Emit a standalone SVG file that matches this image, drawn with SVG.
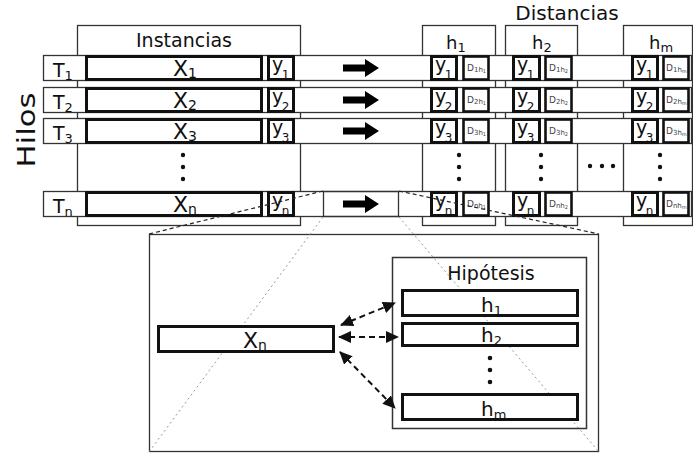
<svg xmlns="http://www.w3.org/2000/svg" width="693" height="454" viewBox="0 0 693 454">
<style>
text{font-family:"DejaVu Sans","Liberation Sans",sans-serif;fill:#111}
.col{fill:#fff;stroke:#333;stroke-width:1.3}
.band{fill:#fff;stroke:#333;stroke-width:1.3}
.thick{fill:#fff;stroke:#111;stroke-width:3}
.dbox{fill:#fff;stroke:#111;stroke-width:2.6}
.d{fill:#444;font-size:9px}
.y{font-size:19px}
.dot{fill:#111}
.zdash{stroke:#222;stroke-width:1.2;stroke-dasharray:4 3;fill:none}
.zdot{stroke:#999;stroke-width:1;stroke-dasharray:2 3;fill:none}
.dar{stroke:#111;stroke-width:2;stroke-dasharray:6 4;fill:none;marker-start:url(#ah);marker-end:url(#ah)}
</style>
<defs>
<marker id="ah" markerUnits="userSpaceOnUse" markerWidth="13" markerHeight="12" refX="12" refY="6" orient="auto-start-reverse" viewBox="0 0 13 12">
<path d="M0,0 L13,6 L0,12 z" fill="#111"/>
</marker>
<path id="barrow" d="M343,-3.5 H365 V-9 L379,0 L365,9 V3.5 H343 z" fill="#000"/>
</defs>

<!-- column boxes -->
<g id="instancias">
<rect class="col" x="77.5" y="25.5" width="223" height="200"/>
<text x="184" y="47" font-size="19" text-anchor="middle">Instancias</text>
</g>
<g id="distancias-title"><text x="567" y="20" font-size="20" text-anchor="middle">Distancias</text></g>
<g id="col-h1">
<rect class="col" x="422.5" y="25.5" width="73" height="200"/>
<text x="446" y="49" font-size="18">h<tspan font-size="13" dy="3">1</tspan></text>
</g>
<g id="col-h2">
<rect class="col" x="505.5" y="25.5" width="72" height="200"/>
<text x="532" y="49" font-size="18">h<tspan font-size="13" dy="3">2</tspan></text>
</g>
<g id="col-hm">
<rect class="col" x="623.5" y="25.5" width="69" height="200"/>
<text x="649" y="49" font-size="18">h<tspan font-size="13" dy="3">m</tspan></text>
</g>

<g id="hilos"><text transform="translate(35,130) rotate(-90)" font-size="25" text-anchor="middle" textLength="75" lengthAdjust="spacingAndGlyphs">Hilos</text></g>

<!-- row 1 -->
<g id="row1">
<rect class="band" x="43.5" y="55.5" width="648" height="25"/>
<text x="53" y="77" font-size="19">T<tspan font-size="13" dy="3">1</tspan></text>
<rect class="thick" x="86.5" y="56.5" width="175" height="23"/>
<text x="173" y="76" font-size="22">X<tspan font-size="14" dy="2">1</tspan></text>
<rect class="thick" x="268.5" y="56.5" width="25" height="23"/>
<text class="y" x="272" y="70.5">y<tspan font-size="12" dx="-1.5" dy="8">1</tspan></text>
<use href="#barrow" y="68"/>
<rect class="thick" x="431.5" y="56.5" width="25" height="23"/>
<text class="y" x="435" y="70.5">y<tspan font-size="12" dx="-1.5" dy="8">1</tspan></text>
<rect class="dbox" x="463.5" y="56.5" width="25" height="23"/>
<text class="d" x="467" y="71">D<tspan font-size="7" dy="1">1h</tspan><tspan font-size="5" dy="1">1</tspan></text>
<rect class="thick" x="513.5" y="56.5" width="26" height="23"/>
<text class="y" x="517" y="70.5">y<tspan font-size="12" dx="-1.5" dy="8">1</tspan></text>
<rect class="dbox" x="545.5" y="56.5" width="26" height="23"/>
<text class="d" x="549" y="71">D<tspan font-size="7" dy="1">1h</tspan><tspan font-size="5" dy="1">2</tspan></text>
<rect class="thick" x="632.5" y="56.5" width="25" height="23"/>
<text class="y" x="636" y="70.5">y<tspan font-size="12" dx="-1.5" dy="8">1</tspan></text>
<rect class="dbox" x="663.5" y="56.5" width="25" height="23"/>
<text class="d" x="666" y="71">D<tspan font-size="7" dy="1">1h</tspan><tspan font-size="5" dy="1">m</tspan></text>
</g>

<!-- row 2 -->
<g id="row2">
<rect class="band" x="43.5" y="87.5" width="648" height="25"/>
<text x="53" y="109" font-size="19">T<tspan font-size="13" dy="3">2</tspan></text>
<rect class="thick" x="86.5" y="88.5" width="175" height="23"/>
<text x="173" y="108" font-size="22">X<tspan font-size="14" dy="2">2</tspan></text>
<rect class="thick" x="268.5" y="88.5" width="25" height="23"/>
<text class="y" x="272" y="102.5">y<tspan font-size="12" dx="-1.5" dy="8">2</tspan></text>
<use href="#barrow" y="100"/>
<rect class="thick" x="431.5" y="88.5" width="25" height="23"/>
<text class="y" x="435" y="102.5">y<tspan font-size="12" dx="-1.5" dy="8">2</tspan></text>
<rect class="dbox" x="463.5" y="88.5" width="25" height="23"/>
<text class="d" x="467" y="103">D<tspan font-size="7" dy="1">2h</tspan><tspan font-size="5" dy="1">1</tspan></text>
<rect class="thick" x="513.5" y="88.5" width="26" height="23"/>
<text class="y" x="517" y="102.5">y<tspan font-size="12" dx="-1.5" dy="8">2</tspan></text>
<rect class="dbox" x="545.5" y="88.5" width="26" height="23"/>
<text class="d" x="549" y="103">D<tspan font-size="7" dy="1">2h</tspan><tspan font-size="5" dy="1">2</tspan></text>
<rect class="thick" x="632.5" y="88.5" width="25" height="23"/>
<text class="y" x="636" y="102.5">y<tspan font-size="12" dx="-1.5" dy="8">2</tspan></text>
<rect class="dbox" x="663.5" y="88.5" width="25" height="23"/>
<text class="d" x="666" y="103">D<tspan font-size="7" dy="1">2h</tspan><tspan font-size="5" dy="1">m</tspan></text>
</g>

<!-- row 3 -->
<g id="row3">
<rect class="band" x="43.5" y="118.5" width="648" height="25"/>
<text x="53" y="140" font-size="19">T<tspan font-size="13" dy="3">3</tspan></text>
<rect class="thick" x="86.5" y="119.5" width="175" height="23"/>
<text x="173" y="139" font-size="22">X<tspan font-size="14" dy="2">3</tspan></text>
<rect class="thick" x="268.5" y="119.5" width="25" height="23"/>
<text class="y" x="272" y="133.5">y<tspan font-size="12" dx="-1.5" dy="8">3</tspan></text>
<use href="#barrow" y="131"/>
<rect class="thick" x="431.5" y="119.5" width="25" height="23"/>
<text class="y" x="435" y="133.5">y<tspan font-size="12" dx="-1.5" dy="8">3</tspan></text>
<rect class="dbox" x="463.5" y="119.5" width="25" height="23"/>
<text class="d" x="467" y="134">D<tspan font-size="7" dy="1">3h</tspan><tspan font-size="5" dy="1">1</tspan></text>
<rect class="thick" x="513.5" y="119.5" width="26" height="23"/>
<text class="y" x="517" y="133.5">y<tspan font-size="12" dx="-1.5" dy="8">3</tspan></text>
<rect class="dbox" x="545.5" y="119.5" width="26" height="23"/>
<text class="d" x="549" y="134">D<tspan font-size="7" dy="1">3h</tspan><tspan font-size="5" dy="1">2</tspan></text>
<rect class="thick" x="632.5" y="119.5" width="25" height="23"/>
<text class="y" x="636" y="133.5">y<tspan font-size="12" dx="-1.5" dy="8">3</tspan></text>
<rect class="dbox" x="663.5" y="119.5" width="25" height="23"/>
<text class="d" x="666" y="134">D<tspan font-size="7" dy="1">3h</tspan><tspan font-size="5" dy="1">m</tspan></text>
</g>

<!-- vertical / horizontal ellipsis dots -->
<g id="dots-top">
<circle class="dot" cx="183" cy="155" r="2.2"/><circle class="dot" cx="183" cy="167" r="2.2"/><circle class="dot" cx="183" cy="179" r="2.2"/>
<circle class="dot" cx="459" cy="155" r="2.2"/><circle class="dot" cx="459" cy="167" r="2.2"/><circle class="dot" cx="459" cy="179" r="2.2"/>
<circle class="dot" cx="541" cy="155" r="2.2"/><circle class="dot" cx="541" cy="167" r="2.2"/><circle class="dot" cx="541" cy="179" r="2.2"/>
<circle class="dot" cx="660" cy="155" r="2.2"/><circle class="dot" cx="660" cy="167" r="2.2"/><circle class="dot" cx="660" cy="179" r="2.2"/>
<circle class="dot" cx="590" cy="166" r="2.2"/><circle class="dot" cx="602" cy="166" r="2.2"/><circle class="dot" cx="613" cy="166" r="2.2"/>
</g>

<!-- row n -->
<g id="rown">
<rect class="band" x="43.5" y="191.5" width="648" height="25"/>
<text x="53" y="213" font-size="19">T<tspan font-size="13" dy="3">n</tspan></text>
<rect class="thick" x="86.5" y="192.5" width="175" height="23"/>
<text x="173" y="212" font-size="22">X<tspan font-size="14" dy="2">n</tspan></text>
<rect class="thick" x="268.5" y="192.5" width="25" height="23"/>
<text class="y" x="272" y="206.5">y<tspan font-size="12" dx="-1.5" dy="8">n</tspan></text>
<rect id="zoom-window" x="323.5" y="191.5" width="75" height="25" fill="none" stroke="#333" stroke-width="1.3"/>
<use href="#barrow" y="204"/>
<rect class="thick" x="431.5" y="192.5" width="25" height="23"/>
<text class="y" x="435" y="206.5">y<tspan font-size="12" dx="-1.5" dy="8">n</tspan></text>
<rect class="dbox" x="463.5" y="192.5" width="25" height="23"/>
<text class="d" x="467" y="207">D<tspan font-size="7" dy="1">nh</tspan><tspan font-size="5" dy="1">1</tspan></text>
<rect class="thick" x="513.5" y="192.5" width="26" height="23"/>
<text class="y" x="517" y="206.5">y<tspan font-size="12" dx="-1.5" dy="8">n</tspan></text>
<rect class="dbox" x="545.5" y="192.5" width="26" height="23"/>
<text class="d" x="549" y="207">D<tspan font-size="7" dy="1">nh</tspan><tspan font-size="5" dy="1">2</tspan></text>
<rect class="thick" x="632.5" y="192.5" width="25" height="23"/>
<text class="y" x="636" y="206.5">y<tspan font-size="12" dx="-1.5" dy="8">n</tspan></text>
<rect class="dbox" x="663.5" y="192.5" width="25" height="23"/>
<text class="d" x="666" y="207">D<tspan font-size="7" dy="1">nh</tspan><tspan font-size="5" dy="1">m</tspan></text>
</g>

<!-- zoomed detail -->
<g id="detail-box"><rect x="149.5" y="234.5" width="449" height="217" fill="#fff" stroke="#333" stroke-width="1.3"/></g>
<g id="zoom-lines">
<line class="zdot" x1="323" y1="217" x2="149" y2="452"/>
<line class="zdot" x1="399" y1="217" x2="599" y2="452"/>
<line class="zdash" x1="323" y1="191" x2="149" y2="234"/>
<line class="zdash" x1="399" y1="191" x2="599" y2="234"/>
</g>
<g id="hipotesis">
<rect x="392.5" y="257.5" width="194" height="171" fill="none" stroke="#333" stroke-width="1.5"/>
<text x="491" y="280" font-size="19" text-anchor="middle">Hipótesis</text>
</g>
<g id="hyp-h1"><rect class="thick" x="402.5" y="290.5" width="175" height="25"/><text x="481" y="312" font-size="20">h<tspan font-size="13" dy="3">1</tspan></text></g>
<g id="hyp-h2"><rect class="thick" x="402.5" y="323.5" width="175" height="22"/><text x="481" y="342" font-size="20">h<tspan font-size="13" dy="3">2</tspan></text></g>
<g id="hyp-dots"><circle class="dot" cx="490" cy="358" r="2.3"/><circle class="dot" cx="490" cy="370" r="2.3"/><circle class="dot" cx="490" cy="382" r="2.3"/></g>
<g id="hyp-hm"><rect class="thick" x="402.5" y="394.5" width="175" height="25"/><text x="481" y="416" font-size="20">h<tspan font-size="13" dy="3">m</tspan></text></g>
<g id="xn-detail"><rect class="thick" x="158.5" y="326.5" width="175" height="25"/><text x="243" y="348" font-size="22">X<tspan font-size="14" dy="2">n</tspan></text></g>

<g id="connectors">
<line class="dar" x1="341" y1="325" x2="395" y2="303"/>
<line class="dar" x1="339" y1="337" x2="398" y2="337"/>
<line class="dar" x1="340" y1="352" x2="395" y2="408"/>
</g>
</svg>
